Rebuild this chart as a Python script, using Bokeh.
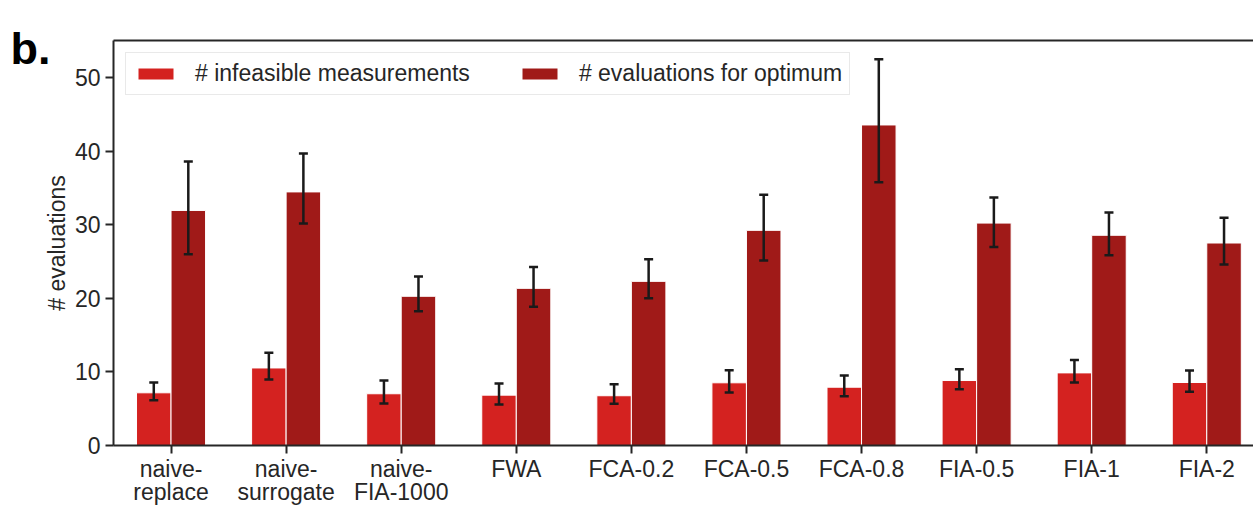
from bokeh.plotting import figure
from bokeh.models import (ColumnDataSource, Range1d, FixedTicker, LinearAxis, Whisker,
                          TeeHead, Legend, LegendItem, Label)
from bokeh.embed import file_html
from bokeh.resources import INLINE

categories = ["naive-\nreplace", "naive-\nsurrogate", "naive-\nFIA-1000", "FWA", "FCA-0.2",
              "FCA-0.5", "FCA-0.8", "FIA-0.5", "FIA-1", "FIA-2"]
infeasible = [7.17, 10.55, 7.04, 6.85, 6.77, 8.53, 7.93, 8.84, 9.88, 8.57]
infeasible_lo = [6.17, 8.97, 5.72, 5.59, 5.68, 7.21, 6.71, 7.66, 8.57, 7.31]
infeasible_hi = [8.57, 12.62, 8.84, 8.43, 8.34, 10.23, 9.51, 10.37, 11.64, 10.19]
optimum = [31.98, 34.5, 20.3, 21.38, 22.33, 29.27, 43.61, 30.26, 28.6, 27.55]
optimum_lo = [26.02, 30.2, 18.27, 18.89, 20.03, 25.17, 35.8, 27.0, 25.89, 24.63]
optimum_hi = [38.65, 39.73, 23.0, 24.3, 25.35, 34.1, 52.54, 33.73, 31.7, 30.99]

LIGHT = "#d42220"
DARK = "#a01a18"
FONT = "Liberation Sans"
AX = "#262626"

idx = list(range(len(categories)))
bw = 0.3
src_l = ColumnDataSource(dict(x=[i - bw / 2 for i in idx], top=infeasible, lo=infeasible_lo, hi=infeasible_hi))
src_d = ColumnDataSource(dict(x=[i + bw / 2 for i in idx], top=optimum, lo=optimum_lo, hi=optimum_hi))

p = figure(width=1253, height=507, x_range=Range1d(-0.5, 9.406), y_range=Range1d(0, 55.1),
           output_backend="svg", toolbar_location=None,
           min_border_left=113, min_border_right=0, min_border_top=40, min_border_bottom=60)
p.outline_line_color = None
p.grid.visible = False
p.background_fill_color = "white"
p.border_fill_color = "white"

r_l = p.vbar(x="x", top="top", width=bw, source=src_l, fill_color=LIGHT, line_color="white", line_width=1)
r_d = p.vbar(x="x", top="top", width=bw, source=src_d, fill_color=DARK, line_color="white", line_width=1)

for src in (src_l, src_d):
    w = Whisker(base="x", lower="lo", upper="hi", source=src, line_color="#1a1a1a", line_width=2.5,
                level="overlay",
                upper_head=TeeHead(size=9, line_width=2.5, line_color="#1a1a1a"),
                lower_head=TeeHead(size=9, line_width=2.5, line_color="#1a1a1a"))
    p.add_layout(w)

# axes
xa = p.xaxis[0]
xa.ticker = FixedTicker(ticks=idx)
xa.major_label_overrides = {i: c for i, c in zip(idx, categories)}
xa.minor_tick_line_color = None
ya = p.yaxis[0]
ya.ticker = FixedTicker(ticks=[0, 10, 20, 30, 40, 50])
ya.minor_tick_line_color = None
ya.axis_label = "# evaluations"
ya.axis_label_text_font = FONT
ya.axis_label_text_font_size = "23px"
ya.axis_label_text_font_style = "normal"
ya.axis_label_text_color = AX
ya.axis_label_standoff = 2
for a in (xa, ya):
    a.axis_line_color = AX
    a.axis_line_width = 2
    a.major_tick_line_color = AX
    a.major_tick_line_width = 2
    a.major_tick_out = 8
    a.major_tick_in = 0
    a.major_label_text_font = FONT
    a.major_label_text_font_size = "23px"
    a.major_label_text_color = AX
xa.major_label_standoff = 2
xa.major_label_text_line_height = 0.9
ya.major_label_standoff = 5

top = LinearAxis(ticker=FixedTicker(ticks=[]), axis_line_color=AX, axis_line_width=2,
                 major_tick_line_color=None, minor_tick_line_color=None,
                 major_label_text_font_size="0px")
p.add_layout(top, "above")

legend = Legend(items=[LegendItem(label="# infeasible measurements", renderers=[r_l]),
                       LegendItem(label="# evaluations for optimum", renderers=[r_d])],
                orientation="horizontal", location="top_left", margin=12, padding=7,
                spacing=47, glyph_width=45, glyph_height=15, label_standoff=17,
                label_text_font=FONT, label_text_font_size="23px", label_text_color=AX,
                border_line_color="#d4d4d4", border_line_width=1.5, background_fill_alpha=1.0)
p.add_layout(legend)

p.add_layout(Label(x=10, y=48, x_units="canvas", y_units="canvas", text="b.",
                   text_font=FONT, text_font_size="45px", text_font_style="bold",
                   text_color="black", text_baseline="alphabetic"), "left")

open("out.html", "w").write(file_html(p, INLINE))
